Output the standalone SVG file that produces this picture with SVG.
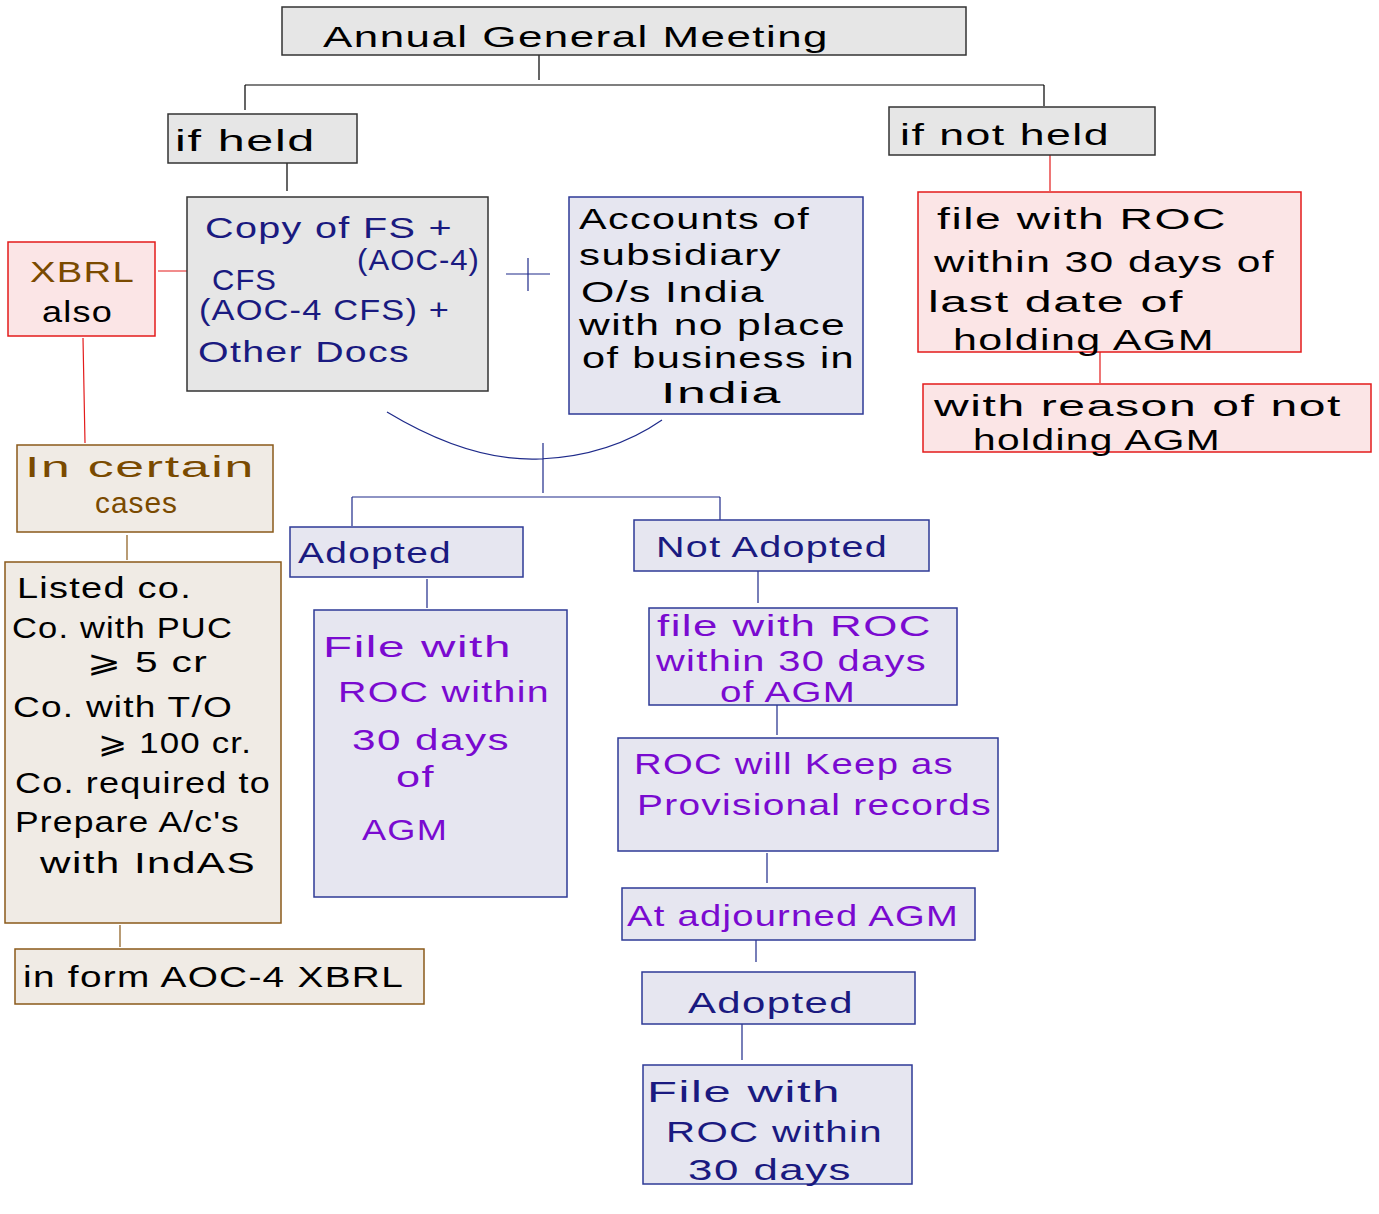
<svg xmlns="http://www.w3.org/2000/svg" width="1379" height="1214" viewBox="0 0 1379 1214">
<style>
text{font-family:"Liberation Sans","DejaVu Sans",sans-serif;font-size:30px;letter-spacing:1px}
.gray{fill:#e6e6e6;stroke:#333;stroke-width:1.5}
.blue{fill:#e6e6f0;stroke:#2e3a96;stroke-width:1.5}
.red{fill:#fbe5e6;stroke:#e31b1b;stroke-width:1.5}
.brown{fill:#f0ebe5;stroke:#8a5a1a;stroke-width:1.5}
.k{fill:#000}
.n{fill:#1a1a80}
.p{fill:#7a0ad0}
.b{fill:#7a4a00}
.lk{stroke:#000;stroke-width:1.2;fill:none}
.ln{stroke:#1e2a8a;stroke-width:1.2;fill:none}
.lr{stroke:#e31b1b;stroke-width:1.2;fill:none}
.lb{stroke:#8a5a1a;stroke-width:1.2;fill:none}
</style>
<rect width="1379" height="1214" fill="#fff"/>
<g id="connectors">
<path class="lk" d="M539 55V80M245 85H1044M245 85V110M1044 85V106M287 163V191"/>
<path class="lr" d="M1050 155V191M158 271H187M83 338L85 443M1100 352V383"/>
<path class="lb" d="M127 535V560M120 925V947"/>
<path class="ln" d="M506 274H550M528 258V291M387 412Q470 462 540 459Q610 456 662 420M543 443V493M352 497H720M352 497V526M720 497V520M427 579V608M758 571V603M777 705V735M767 853V883M756 940V962M742 1024V1060"/>
</g>
<g id="agm"><rect class="gray" x="282" y="7" width="684" height="48"/><text class="k" x="323" y="47" font-size="38" textLength="506" lengthAdjust="spacingAndGlyphs">Annual General Meeting</text></g>
<g id="if-held"><rect class="gray" x="168" y="114" width="189" height="49"/><text class="k" x="175" y="151" font-size="36" textLength="141" lengthAdjust="spacingAndGlyphs">if held</text></g>
<g id="if-not-held"><rect class="gray" x="889" y="107" width="266" height="48"/><text class="k" x="900" y="145" font-size="34" textLength="210" lengthAdjust="spacingAndGlyphs">if not held</text></g>
<g id="copy-fs"><rect class="gray" x="187" y="197" width="301" height="194"/>
<text class="n" x="205" y="238" font-size="32" textLength="248" lengthAdjust="spacingAndGlyphs">Copy of FS +</text>
<text class="n" x="357" y="270" font-size="28" textLength="123" lengthAdjust="spacingAndGlyphs">(AOC-4)</text>
<text class="n" x="212" y="290" font-size="30" textLength="65" lengthAdjust="spacingAndGlyphs">CFS</text>
<text class="n" x="199" y="320" font-size="28" textLength="251" lengthAdjust="spacingAndGlyphs">(AOC-4 CFS) +</text>
<text class="n" x="198" y="362" font-size="28" textLength="212" lengthAdjust="spacingAndGlyphs">Other  Docs</text></g>
<g id="xbrl"><rect class="red" x="8" y="242" width="147" height="94"/>
<text class="b" x="30" y="282" font-size="30" textLength="105" lengthAdjust="spacingAndGlyphs">XBRL</text>
<text class="k" x="42" y="322" font-size="30" textLength="71" lengthAdjust="spacingAndGlyphs">also</text></g>
<g id="accounts"><rect class="blue" x="569" y="197" width="294" height="217"/>
<text class="k" x="579" y="229" font-size="30" textLength="231" lengthAdjust="spacingAndGlyphs">Accounts of</text>
<text class="k" x="579" y="265" font-size="30" textLength="203" lengthAdjust="spacingAndGlyphs">subsidiary</text>
<text class="k" x="581" y="302" font-size="30" textLength="184" lengthAdjust="spacingAndGlyphs">O/s India</text>
<text class="k" x="579" y="335" font-size="30" textLength="267" lengthAdjust="spacingAndGlyphs">with no place</text>
<text class="k" x="582" y="368" font-size="30" textLength="273" lengthAdjust="spacingAndGlyphs">of business in</text>
<text class="k" x="661" y="403" font-size="30" textLength="121" lengthAdjust="spacingAndGlyphs">India</text></g>
<g id="not-held-file"><rect class="red" x="918" y="192" width="383" height="160"/>
<text class="k" x="937" y="229" font-size="30" textLength="290" lengthAdjust="spacingAndGlyphs">file with ROC</text>
<text class="k" x="934" y="272" font-size="30" textLength="341" lengthAdjust="spacingAndGlyphs">within 30 days of</text>
<text class="k" x="928" y="312" font-size="30" textLength="256" lengthAdjust="spacingAndGlyphs">last date of</text>
<text class="k" x="953" y="350" font-size="30" textLength="262" lengthAdjust="spacingAndGlyphs">holding AGM</text></g>
<g id="reason"><rect class="red" x="923" y="384" width="448" height="68"/>
<text class="k" x="934" y="416" font-size="30" textLength="408" lengthAdjust="spacingAndGlyphs">with reason of not</text>
<text class="k" x="973" y="450" font-size="30" textLength="248" lengthAdjust="spacingAndGlyphs">holding AGM</text></g>
<g id="certain"><rect class="brown" x="17" y="445" width="256" height="87"/>
<text class="b" x="25" y="477" font-size="32" textLength="230" lengthAdjust="spacingAndGlyphs">In certain</text>
<text class="b" x="95" y="513" font-size="30" textLength="83" lengthAdjust="spacingAndGlyphs">cases</text></g>
<g id="listed"><rect class="brown" x="5" y="562" width="276" height="361"/>
<text class="k" x="17" y="598" font-size="30" textLength="175" lengthAdjust="spacingAndGlyphs">Listed co.</text>
<text class="k" x="12" y="638" font-size="30" textLength="221" lengthAdjust="spacingAndGlyphs">Co. with PUC</text>
<text class="k" x="87" y="672" font-size="30" textLength="121" lengthAdjust="spacingAndGlyphs">⩾ 5 cr</text>
<text class="k" x="13" y="717" font-size="30" textLength="220" lengthAdjust="spacingAndGlyphs">Co. with T/O</text>
<text class="k" x="98" y="753" font-size="30" textLength="154" lengthAdjust="spacingAndGlyphs">⩾ 100 cr.</text>
<text class="k" x="15" y="793" font-size="30" textLength="256" lengthAdjust="spacingAndGlyphs">Co. required to</text>
<text class="k" x="15" y="832" font-size="30" textLength="225" lengthAdjust="spacingAndGlyphs">Prepare A/c's</text>
<text class="k" x="40" y="873" font-size="30" textLength="216" lengthAdjust="spacingAndGlyphs">with IndAS</text></g>
<g id="inform"><rect class="brown" x="15" y="949" width="409" height="55"/>
<text class="k" x="23" y="987" font-size="30" textLength="381" lengthAdjust="spacingAndGlyphs">in form  AOC-4 XBRL</text></g>
<g id="adopted"><rect class="blue" x="290" y="527" width="233" height="50"/>
<text class="n" x="298" y="563" font-size="34" textLength="154" lengthAdjust="spacingAndGlyphs">Adopted</text></g>
<g id="adopted-file"><rect class="blue" x="314" y="610" width="253" height="287"/>
<text class="p" x="323" y="657" font-size="32" textLength="189" lengthAdjust="spacingAndGlyphs">File with</text>
<text class="p" x="338" y="702" font-size="32" textLength="212" lengthAdjust="spacingAndGlyphs">ROC within</text>
<text class="p" x="352" y="750" font-size="32" textLength="158" lengthAdjust="spacingAndGlyphs">30 days</text>
<text class="p" x="396" y="787" font-size="32" textLength="39" lengthAdjust="spacingAndGlyphs">of</text>
<text class="p" x="362" y="840" font-size="32" textLength="86" lengthAdjust="spacingAndGlyphs">AGM</text></g>
<g id="not-adopted"><rect class="blue" x="634" y="520" width="295" height="51"/>
<text class="n" x="656" y="557" font-size="32" textLength="232" lengthAdjust="spacingAndGlyphs">Not Adopted</text></g>
<g id="na-file"><rect class="blue" x="649" y="608" width="308" height="97"/>
<text class="p" x="657" y="636" font-size="26" textLength="275" lengthAdjust="spacingAndGlyphs">file with ROC</text>
<text class="p" x="656" y="671" font-size="26" textLength="271" lengthAdjust="spacingAndGlyphs">within 30 days</text>
<text class="p" x="720" y="702" font-size="26" textLength="136" lengthAdjust="spacingAndGlyphs">of  AGM</text></g>
<g id="provisional"><rect class="blue" x="618" y="738" width="380" height="113"/>
<text class="p" x="634" y="774" font-size="32" textLength="320" lengthAdjust="spacingAndGlyphs">ROC will Keep as</text>
<text class="p" x="637" y="815" font-size="32" textLength="355" lengthAdjust="spacingAndGlyphs">Provisional records</text></g>
<g id="adjourned"><rect class="blue" x="622" y="888" width="353" height="52"/>
<text class="p" x="627" y="926" font-size="32" textLength="332" lengthAdjust="spacingAndGlyphs">At adjourned AGM</text></g>
<g id="adopted2"><rect class="blue" x="642" y="972" width="273" height="52"/>
<text class="n" x="688" y="1013" font-size="32" textLength="166" lengthAdjust="spacingAndGlyphs">Adopted</text></g>
<g id="final-file"><rect class="blue" x="643" y="1065" width="269" height="119"/>
<text class="n" x="647" y="1102" font-size="32" textLength="194" lengthAdjust="spacingAndGlyphs">File with</text>
<text class="n" x="666" y="1142" font-size="32" textLength="217" lengthAdjust="spacingAndGlyphs">ROC within</text>
<text class="n" x="688" y="1180" font-size="32" textLength="164" lengthAdjust="spacingAndGlyphs">30  days</text></g>
</svg>
